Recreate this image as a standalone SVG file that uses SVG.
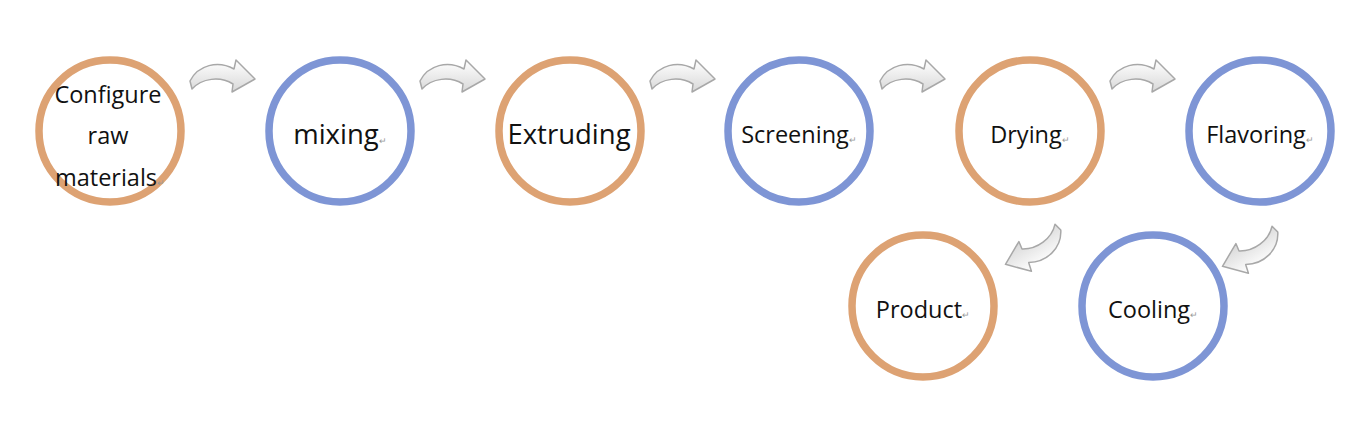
<svg xmlns="http://www.w3.org/2000/svg" width="1371" height="426" viewBox="0 0 1371 426">
<style>
.o{fill:none;stroke:#DDA273;stroke-width:7.5}
.b{fill:none;stroke:#7E95D5;stroke-width:7.5}
.t{font-family:"Open Sans","Liberation Sans",sans-serif;fill:#111;text-anchor:middle}
.r{font-size:9px;fill:#999}
.ar{fill:url(#g);stroke:#A8A8A8;stroke-width:1.5;stroke-linejoin:round}
</style>
<defs>
<linearGradient id="g" x1="0" y1="0" x2="0" y2="1">
<stop offset="0" stop-color="#FFFFFF"/>
<stop offset="1" stop-color="#D8D8D8"/>
</linearGradient>
<path id="arr" class="ar" d="M2,23 C10,7 30,2 46,11 L48,2 L67,21 L44,34 L45,26 C32,18 14,20 4,31 Z"/>
</defs>
<g id="connectors">
<use href="#arr" x="188" y="58"/>
<use href="#arr" x="418" y="58"/>
<use href="#arr" x="648" y="58"/>
<use href="#arr" x="878" y="58"/>
<use href="#arr" x="1108" y="58"/>
<use href="#arr" transform="translate(1074,249) rotate(150)"/>
<use href="#arr" transform="translate(1291,251) rotate(150)"/>
</g>
<g id="n1"><circle class="o" cx="110" cy="131" r="71"/>
<text class="t" x="108" y="103" font-size="23.5">Configure</text>
<text class="t" x="108" y="144" font-size="23.5">raw</text>
<text class="t" x="110" y="186" font-size="23.5">materials<tspan class="r">↵</tspan></text></g>
<g id="n2"><circle class="b" cx="340" cy="131" r="71"/>
<text class="t" x="340" y="144" font-size="27.5">mixing<tspan class="r">↵</tspan></text></g>
<g id="n3"><circle class="o" cx="570" cy="131" r="71"/>
<text class="t" x="569" y="144" font-size="27.5">Extruding</text></g>
<g id="n4"><circle class="b" cx="799" cy="131" r="71"/>
<text class="t" x="799" y="143" font-size="23.5">Screening<tspan class="r">↵</tspan></text></g>
<g id="n5"><circle class="o" cx="1030" cy="131" r="71"/>
<text class="t" x="1030" y="143" font-size="23.5">Drying<tspan class="r">↵</tspan></text></g>
<g id="n6"><circle class="b" cx="1260" cy="131" r="71"/>
<text class="t" x="1260" y="143" font-size="23.5">Flavoring<tspan class="r">↵</tspan></text></g>
<g id="n7"><circle class="o" cx="923" cy="306" r="71"/>
<text class="t" x="923" y="318" font-size="23.5">Product<tspan class="r">↵</tspan></text></g>
<g id="n8"><circle class="b" cx="1153" cy="306" r="71"/>
<text class="t" x="1153" y="318" font-size="23.5">Cooling<tspan class="r">↵</tspan></text></g>
</svg>
